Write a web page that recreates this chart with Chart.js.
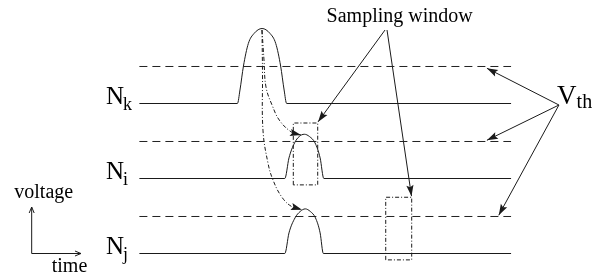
<!DOCTYPE html>
<html><head><meta charset="utf-8">
<style>html,body{margin:0;padding:0;background:#fff;}canvas{display:block;}</style>
<script src="https://cdn.jsdelivr.net/npm/chart.js@4/dist/chart.umd.min.js"></script>
</head><body>
<canvas id="c" width="604" height="276"></canvas>
<script>
// ---- data (time / voltage in arbitrary diagram units) ----
const timeRange = [-30, 100];
const voltRange = [-0.6, 6.76];

const nodeNames = ['k', 'i', 'j'];
const nodeBase = [4, 2, 0];
const thresholdOffset = 0.987;
const traceSpan = [0, 80];

const nkPulseT = [21.1, 21.65, 22.4, 23.45, 24.7, 26.4, 28.1, 29.35, 30.4, 31.15, 31.7];
const nkPulseV = [0, 0.36, 1.0, 1.6, 1.87, 2.0, 1.87, 1.6, 1.0, 0.36, 0];
const niPulseT = [31.3, 32.2, 33.4, 34.4, 35.5, 36.6, 37.8, 38.9, 39.7];
const niPulseV = [0, 0.55, 0.95, 1.12, 1.18, 1.12, 0.95, 0.55, 0];
const njPulseT = [31.3, 32.2, 33.5, 34.6, 35.7, 36.8, 37.9, 38.9, 39.6];
const njPulseV = [0, 0.55, 0.95, 1.12, 1.19, 1.12, 0.95, 0.55, 0];

// propagation curves (dash-dot) from N_k peak
const curveAT = [26.39, 26.82, 27.25, 28.55, 30.27, 33.07, 34.79];
const curveAV = [5.96, 5.16, 4.44, 3.96, 3.53, 3.21, 3.16];
const curveBT = [26.39, 26.5, 26.6, 27.68, 28.76, 30.63, 32.79, 35.0];
const curveBV = [5.96, 4.8, 3.29, 2.41, 1.96, 1.51, 1.25, 1.17];

// sampling windows [t0, t1, v0, v1]
const window1 = [33.13, 38.38, 1.83, 3.48];
const window2 = [53.02, 58.61, -0.17, 1.50];

// annotation arrows
const samplingFromT = [52.87, 53.3];
const samplingFromV = [5.96, 5.96];
const samplingToT = [38.45, 58.57];
const samplingToV = [3.51, 1.53];
const vthFrom = [90.3, 3.96];
const vthToT = [74.8, 74.8, 77.35];
const vthToV = [4.94, 3.02, 1.02];

// voltage/time legend axes
const legendOrigin = [-23.18, 0];
const legendUp = [-23.18, 1.24];
const legendRight = [-12.57, 0];

// text labels
const labelNodeT = -7.2;
const voltageLabel = ['voltage', -26.92, 1.47];
const timeLabel = ['time', -18.87, -0.485];
const samplingLabel = ['Sampling window', 40.3, 6.18];
const vthLabel = ['V', 'th', 89.9, 3.98];

// ---- build datasets ----
const SERIF = '"Liberation Serif", "Times New Roman", serif';
const INK = '#1a1a1a';
const zip = (ts, vs, off) => ts.map((t, i) => ({x: t, y: vs[i] + (off || 0)}));
function trace(pt, pv, base) {
  return [{x: traceSpan[0], y: base}].concat(zip(pt, pv, base)).concat([{x: traceSpan[1], y: base}]);
}
const base = {pointRadius: 0, borderColor: INK, borderWidth: 1, showLine: true, clip: false, fill: false};
const datasets = [];
const pulses = [[nkPulseT, nkPulseV], [niPulseT, niPulseV], [njPulseT, njPulseV]];
nodeBase.forEach((b, i) => {
  datasets.push(Object.assign({}, base, {data: trace(pulses[i][0], pulses[i][1], b), cubicInterpolationMode: 'monotone'}));
  datasets.push(Object.assign({}, base, {data: [{x: traceSpan[0], y: b + thresholdOffset}, {x: traceSpan[1], y: b + thresholdOffset}], borderDash: [8, 5], borderColor: '#222'}));
});
datasets.push(Object.assign({}, base, {data: zip(curveAT, curveAV), tension: 0.4, borderDash: [4, 2, 1, 2], arrow: 'filled'}));
datasets.push(Object.assign({}, base, {data: zip(curveBT, curveBV), tension: 0.4, borderDash: [4, 2, 1, 2], arrow: 'filled'}));
[window1, window2].forEach(w => {
  datasets.push(Object.assign({}, base, {data: [{x: w[0], y: w[2]}, {x: w[0], y: w[3]}, {x: w[1], y: w[3]}, {x: w[1], y: w[2]}, {x: w[0], y: w[2]}], borderDash: [4, 2, 1, 2]}));
});
samplingToT.forEach((t, i) => {
  datasets.push(Object.assign({}, base, {data: [{x: samplingFromT[i], y: samplingFromV[i]}, {x: t, y: samplingToV[i]}], arrow: 'filled'}));
});
vthToT.forEach((t, i) => {
  datasets.push(Object.assign({}, base, {data: [{x: vthFrom[0], y: vthFrom[1]}, {x: t, y: vthToV[i]}], arrow: 'filled'}));
});
datasets.push(Object.assign({}, base, {data: [{x: legendOrigin[0], y: legendOrigin[1]}, {x: legendUp[0], y: legendUp[1]}], arrow: 'open'}));
datasets.push(Object.assign({}, base, {data: [{x: legendOrigin[0], y: legendOrigin[1]}, {x: legendRight[0], y: legendRight[1]}], arrow: 'open'}));

const arrowPlugin = {
  id: 'arrowheads',
  afterDatasetsDraw(chart) {
    const ctx = chart.ctx;
    chart.data.datasets.forEach((ds, i) => {
      if (!ds.arrow) return;
      const pts = chart.getDatasetMeta(i).data;
      const b = pts[pts.length - 1], a = pts[pts.length - 2];
      const ang = Math.atan2(b.y - a.y, b.x - a.x);
      ctx.save();
      ctx.translate(b.x, b.y);
      ctx.rotate(ang);
      ctx.strokeStyle = INK; ctx.fillStyle = INK; ctx.lineWidth = 1;
      ctx.beginPath();
      if (ds.arrow === 'filled') {
        ctx.moveTo(0, 0); ctx.lineTo(-11, -3.6); ctx.lineTo(-9, 0); ctx.lineTo(-11, 3.6); ctx.closePath(); ctx.fill();
      } else {
        ctx.moveTo(-6, -2.5); ctx.lineTo(0, 0); ctx.lineTo(-6, 2.5); ctx.stroke();
      }
      ctx.restore();
    });
  }
};

const textPlugin = {
  id: 'texts',
  afterDraw(chart) {
    const ctx = chart.ctx, xs = chart.scales.x, ys = chart.scales.y;
    const X = v => xs.getPixelForValue(v), Y = v => ys.getPixelForValue(v);
    ctx.save();
    ctx.fillStyle = '#000';
    ctx.textBaseline = 'alphabetic';
    ctx.textAlign = 'left';
    nodeNames.forEach((n, i) => {
      ctx.font = '25px ' + SERIF;
      const x = X(labelNodeT), y = Y(nodeBase[i]);
      ctx.fillText('N', x, y);
      const w = ctx.measureText('N').width;
      ctx.font = '18px ' + SERIF;
      ctx.fillText(n, x + w - 1, y + 6);
    });
    ctx.font = '20px ' + SERIF;
    ctx.fillText(voltageLabel[0], X(voltageLabel[1]), Y(voltageLabel[2]));
    ctx.fillText(timeLabel[0], X(timeLabel[1]), Y(timeLabel[2]));
    ctx.fillText(samplingLabel[0], X(samplingLabel[1]), Y(samplingLabel[2]));
    ctx.font = '27px ' + SERIF;
    const vx = X(vthLabel[2]), vy = Y(vthLabel[3]);
    ctx.fillText(vthLabel[0], vx, vy);
    const vw = ctx.measureText(vthLabel[0]).width;
    ctx.font = '20px ' + SERIF;
    ctx.fillText(vthLabel[1], vx + vw, vy + 4);
    ctx.restore();
  }
};

new Chart(document.getElementById('c'), {
  type: 'scatter',
  data: {datasets},
  options: {
    responsive: false,
    animation: false,
    devicePixelRatio: 1,
    layout: {padding: 0},
    plugins: {legend: {display: false}, tooltip: {enabled: false}},
    scales: {
      x: {type: 'linear', min: timeRange[0], max: timeRange[1], display: false},
      y: {type: 'linear', min: voltRange[0], max: voltRange[1], display: false}
    }
  },
  plugins: [arrowPlugin, textPlugin]
});
</script>
</body></html>
